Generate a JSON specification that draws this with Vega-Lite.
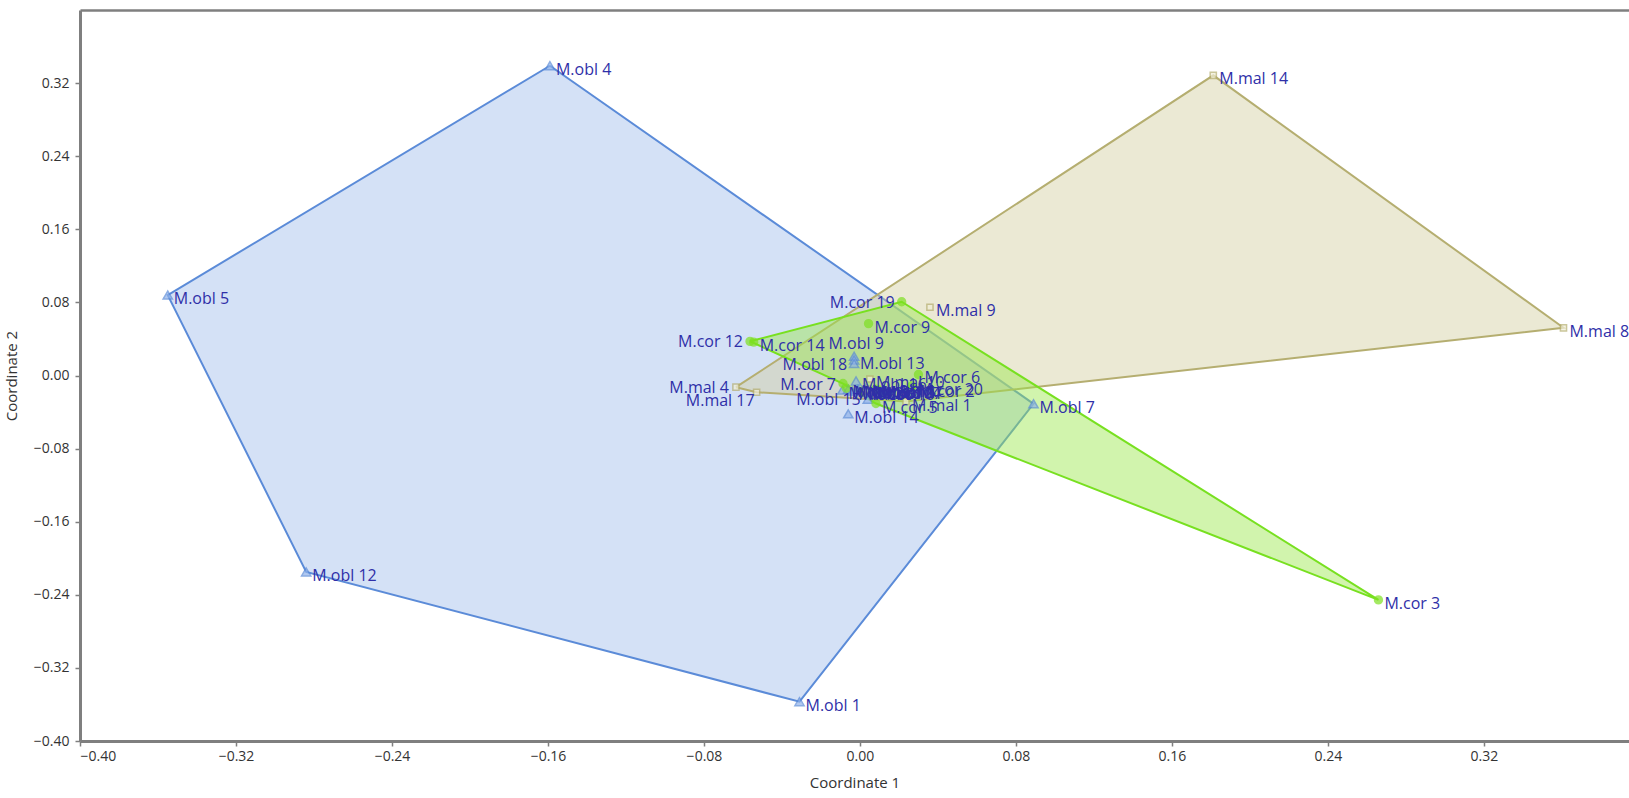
{
  "$schema": "https://vega.github.io/schema/vega-lite/v6.json",
  "width": 1549,
  "height": 731,
  "autosize": {"type": "none"},
  "padding": {"left": 80, "top": 10, "right": 0, "bottom": 57},
  "background": "white",
  "config": {
    "view": {"stroke": null},
    "axis": {
      "grid": false,
      "domainColor": "#7f7f7f",
      "domainWidth": 3,
      "tickColor": "#7f7f7f",
      "tickWidth": 1.5,
      "tickSize": 5,
      "labelFont": "Open Sans",
      "labelFontSize": 14,
      "labelColor": "#333333",
      "titleFont": "Open Sans",
      "titleFontSize": 15,
      "titleFontWeight": "normal",
      "titleColor": "#333333"
    }
  },
  "resolve": {"axis": {"x": "independent", "y": "independent"}},
  "datasets": {
    "points": [
      {"name": "M.obl 4", "grp": "obl", "x": -0.159, "y": 0.339},
      {"name": "M.obl 5", "grp": "obl", "x": -0.355, "y": 0.088},
      {"name": "M.obl 12", "grp": "obl", "x": -0.284, "y": -0.215},
      {"name": "M.obl 1", "grp": "obl", "x": -0.031, "y": -0.357},
      {"name": "M.obl 7", "grp": "obl", "x": 0.089, "y": -0.031},
      {"name": "M.obl 14", "grp": "obl", "x": -0.006, "y": -0.042},
      {"name": "M.obl 9", "grp": "obl", "x": -0.003, "y": 0.021},
      {"name": "M.obl 13", "grp": "obl", "x": -0.003, "y": 0.017},
      {"name": "M.obl 18", "grp": "obl", "x": -0.003, "y": 0.013},
      {"name": "M.obl 15", "grp": "obl", "x": 0.004, "y": -0.026},
      {"name": "M.obl 16", "grp": "obl", "x": -0.002, "y": -0.006},
      {"name": "M.obl 2", "grp": "obl", "x": -0.009, "y": -0.016},
      {"name": "M.obl 3", "grp": "obl", "x": -0.006, "y": -0.015},
      {"name": "M.obl 6", "grp": "obl", "x": -0.004, "y": -0.017},
      {"name": "M.obl 8", "grp": "obl", "x": -0.001, "y": -0.015},
      {"name": "M.obl 10", "grp": "obl", "x": 0.001, "y": -0.016},
      {"name": "M.obl 11", "grp": "obl", "x": 0.003, "y": -0.014},
      {"name": "M.obl 17", "grp": "obl", "x": 0.006, "y": -0.016},
      {"name": "M.cor 19", "grp": "cor", "x": 0.0214, "y": 0.0807},
      {"name": "M.cor 9", "grp": "cor", "x": 0.0044, "y": 0.0568},
      {"name": "M.cor 12", "grp": "cor", "x": -0.0564, "y": 0.0374},
      {"name": "M.cor 14", "grp": "cor", "x": -0.0545, "y": 0.0365},
      {"name": "M.cor 7", "grp": "cor", "x": -0.0087, "y": -0.0088},
      {"name": "M.cor 6", "grp": "cor", "x": 0.03, "y": 0.0011},
      {"name": "M.cor 3", "grp": "cor", "x": 0.2659, "y": -0.2456},
      {"name": "M.cor 5", "grp": "cor", "x": 0.0082, "y": -0.0307},
      {"name": "M.cor 20", "grp": "cor", "x": 0.0267, "y": -0.011},
      {"name": "M.cor 2", "grp": "cor", "x": 0.0272, "y": -0.0132},
      {"name": "M.cor 1", "grp": "cor", "x": 0.008, "y": -0.015},
      {"name": "M.cor 4", "grp": "cor", "x": 0.01, "y": -0.016},
      {"name": "M.cor 8", "grp": "cor", "x": -0.007, "y": -0.014},
      {"name": "M.cor 10", "grp": "cor", "x": 0.002, "y": -0.017},
      {"name": "M.mal 14", "grp": "mal", "x": 0.1812, "y": 0.3285},
      {"name": "M.mal 8", "grp": "mal", "x": 0.3608, "y": 0.0522},
      {"name": "M.mal 9", "grp": "mal", "x": 0.0359, "y": 0.0747},
      {"name": "M.mal 4", "grp": "mal", "x": -0.0636, "y": -0.0128},
      {"name": "M.mal 17", "grp": "mal", "x": -0.053, "y": -0.0183},
      {"name": "M.mal 1", "grp": "mal", "x": 0.0236, "y": -0.0285},
      {"name": "M.mal 2", "grp": "mal", "x": 0.004, "y": -0.015},
      {"name": "M.mal 10", "grp": "mal", "x": 0.0051, "y": -0.0038}
    ],
    "hulls": [
      {"grp": "obl", "ord": 1, "x": -0.159, "y": 0.339},
      {"grp": "obl", "ord": 2, "x": 0.089, "y": -0.031},
      {"grp": "obl", "ord": 3, "x": -0.031, "y": -0.357},
      {"grp": "obl", "ord": 4, "x": -0.284, "y": -0.215},
      {"grp": "obl", "ord": 5, "x": -0.355, "y": 0.088},
      {"grp": "obl", "ord": 6, "x": -0.159, "y": 0.339},
      {"grp": "mal", "ord": 1, "x": -0.0636, "y": -0.0128},
      {"grp": "mal", "ord": 2, "x": 0.1812, "y": 0.3285},
      {"grp": "mal", "ord": 3, "x": 0.3608, "y": 0.0522},
      {"grp": "mal", "ord": 4, "x": 0.0236, "y": -0.0285},
      {"grp": "mal", "ord": 5, "x": -0.053, "y": -0.0183},
      {"grp": "mal", "ord": 6, "x": -0.0636, "y": -0.0128},
      {"grp": "cor", "ord": 1, "x": -0.0564, "y": 0.0374},
      {"grp": "cor", "ord": 2, "x": 0.0214, "y": 0.0807},
      {"grp": "cor", "ord": 3, "x": 0.2659, "y": -0.2456},
      {"grp": "cor", "ord": 4, "x": 0.0082, "y": -0.0307},
      {"grp": "cor", "ord": 5, "x": -0.0087, "y": -0.0088},
      {"grp": "cor", "ord": 6, "x": -0.0564, "y": 0.0374}
    ]
  },
  "layer": [
    {
      "data": {"name": "hulls"},
      "transform": [{"filter": "datum.grp === 'obl'"}],
      "mark": {"type": "line", "fill": "#a9c4ee", "fillOpacity": 0.5, "stroke": "#5b8bd8", "strokeWidth": 2},
      "encoding": {
        "x": {"field": "x", "type": "quantitative", "scale": {"domain": [-0.4, 0.3944], "nice": false, "zero": false},
              "axis": {"orient": "top", "labels": false, "ticks": false, "title": null, "domainWidth": 2.5}},
        "y": {"field": "y", "type": "quantitative", "scale": {"domain": [-0.4, 0.4], "nice": false, "zero": false}, "axis": null},
        "order": {"field": "ord", "type": "quantitative"}
      }
    },
    {
      "data": {"name": "hulls"},
      "transform": [{"filter": "datum.grp === 'mal'"}],
      "mark": {"type": "line", "fill": "#d3cea0", "fillOpacity": 0.45, "stroke": "#b5ae70", "strokeWidth": 2},
      "encoding": {
        "x": {"field": "x", "type": "quantitative", "axis": null},
        "y": {"field": "y", "type": "quantitative", "axis": null},
        "order": {"field": "ord", "type": "quantitative"}
      }
    },
    {
      "data": {"name": "hulls"},
      "transform": [{"filter": "datum.grp === 'cor'"}],
      "mark": {"type": "line", "fill": "#98e64a", "fillOpacity": 0.45, "stroke": "#78e020", "strokeWidth": 2},
      "encoding": {
        "x": {"field": "x", "type": "quantitative", "axis": null},
        "y": {"field": "y", "type": "quantitative", "axis": null},
        "order": {"field": "ord", "type": "quantitative"}
      }
    },
    {
      "data": {"name": "points"},
      "mark": {"type": "point", "filled": false, "strokeWidth": 1.5},
      "encoding": {
        "x": {"field": "x", "type": "quantitative",
              "axis": {"title": "Coordinate 1", "values": [-0.4, -0.32, -0.24, -0.16, -0.08, 0, 0.08, 0.16, 0.24, 0.32], "format": ".2f", "labelPadding": 3, "titlePadding": 12}},
        "y": {"field": "y", "type": "quantitative",
              "axis": {"title": "Coordinate 2", "values": [-0.4, -0.32, -0.24, -0.16, -0.08, 0, 0.08, 0.16, 0.24, 0.32], "format": ".2f", "labelPadding": 6, "titlePadding": 14}},
        "shape": {"field": "grp", "type": "nominal", "scale": {"domain": ["obl", "cor", "mal"], "range": ["triangle-up", "circle", "square"]}, "legend": null},
        "fill": {"field": "grp", "type": "nominal", "scale": {"domain": ["obl", "cor", "mal"], "range": ["#8fb2ea", "#7ee022", "#f0eed8"]}, "legend": null},
        "stroke": {"field": "grp", "type": "nominal", "scale": {"domain": ["obl", "cor", "mal"], "range": ["#5b8bd8", "#7ee022", "#b5ae70"]}, "legend": null},
        "size": {"field": "grp", "type": "nominal", "scale": {"domain": ["obl", "cor", "mal"], "range": [85, 38, 80]}, "legend": null},
        "fillOpacity": {"value": 1}
      }
    },
    {
      "data": {"name": "points"},
      "transform": [{"filter": "indexof(['M.cor 19','M.cor 12','M.mal 4','M.mal 17','M.obl 18','M.cor 7','M.obl 15','M.obl 9'], datum.name) < 0"}],
      "mark": {"type": "text", "align": "left", "baseline": "middle", "dx": 6, "dy": 4, "font": "Open Sans", "fontSize": 16, "color": "#2f2fa8"},
      "encoding": {
        "x": {"field": "x", "type": "quantitative", "axis": null},
        "y": {"field": "y", "type": "quantitative", "axis": null},
        "text": {"field": "name"}
      }
    },
    {
      "data": {"name": "points"},
      "transform": [{"filter": "indexof(['M.cor 19','M.cor 12','M.mal 4','M.obl 18','M.cor 7','M.obl 15'], datum.name) >= 0"}],
      "mark": {"type": "text", "align": "right", "baseline": "middle", "dx": -7, "dy": 1, "font": "Open Sans", "fontSize": 16, "color": "#2f2fa8"},
      "encoding": {
        "x": {"field": "x", "type": "quantitative", "axis": null},
        "y": {"field": "y", "type": "quantitative", "axis": null},
        "text": {"field": "name"}
      }
    },
    {
      "data": {"name": "points"},
      "transform": [{"filter": "datum.name === 'M.mal 17'"}],
      "mark": {"type": "text", "align": "right", "baseline": "middle", "dx": -2, "dy": 9, "font": "Open Sans", "fontSize": 16, "color": "#2f2fa8"},
      "encoding": {
        "x": {"field": "x", "type": "quantitative", "axis": null},
        "y": {"field": "y", "type": "quantitative", "axis": null},
        "text": {"field": "name"}
      }
    },
    {
      "data": {"name": "points"},
      "transform": [{"filter": "datum.name === 'M.obl 9'"}],
      "mark": {"type": "text", "align": "center", "baseline": "middle", "dx": 2, "dy": -12, "font": "Open Sans", "fontSize": 16, "color": "#2f2fa8"},
      "encoding": {
        "x": {"field": "x", "type": "quantitative", "axis": null},
        "y": {"field": "y", "type": "quantitative", "axis": null},
        "text": {"field": "name"}
      }
    }
  ]
}
